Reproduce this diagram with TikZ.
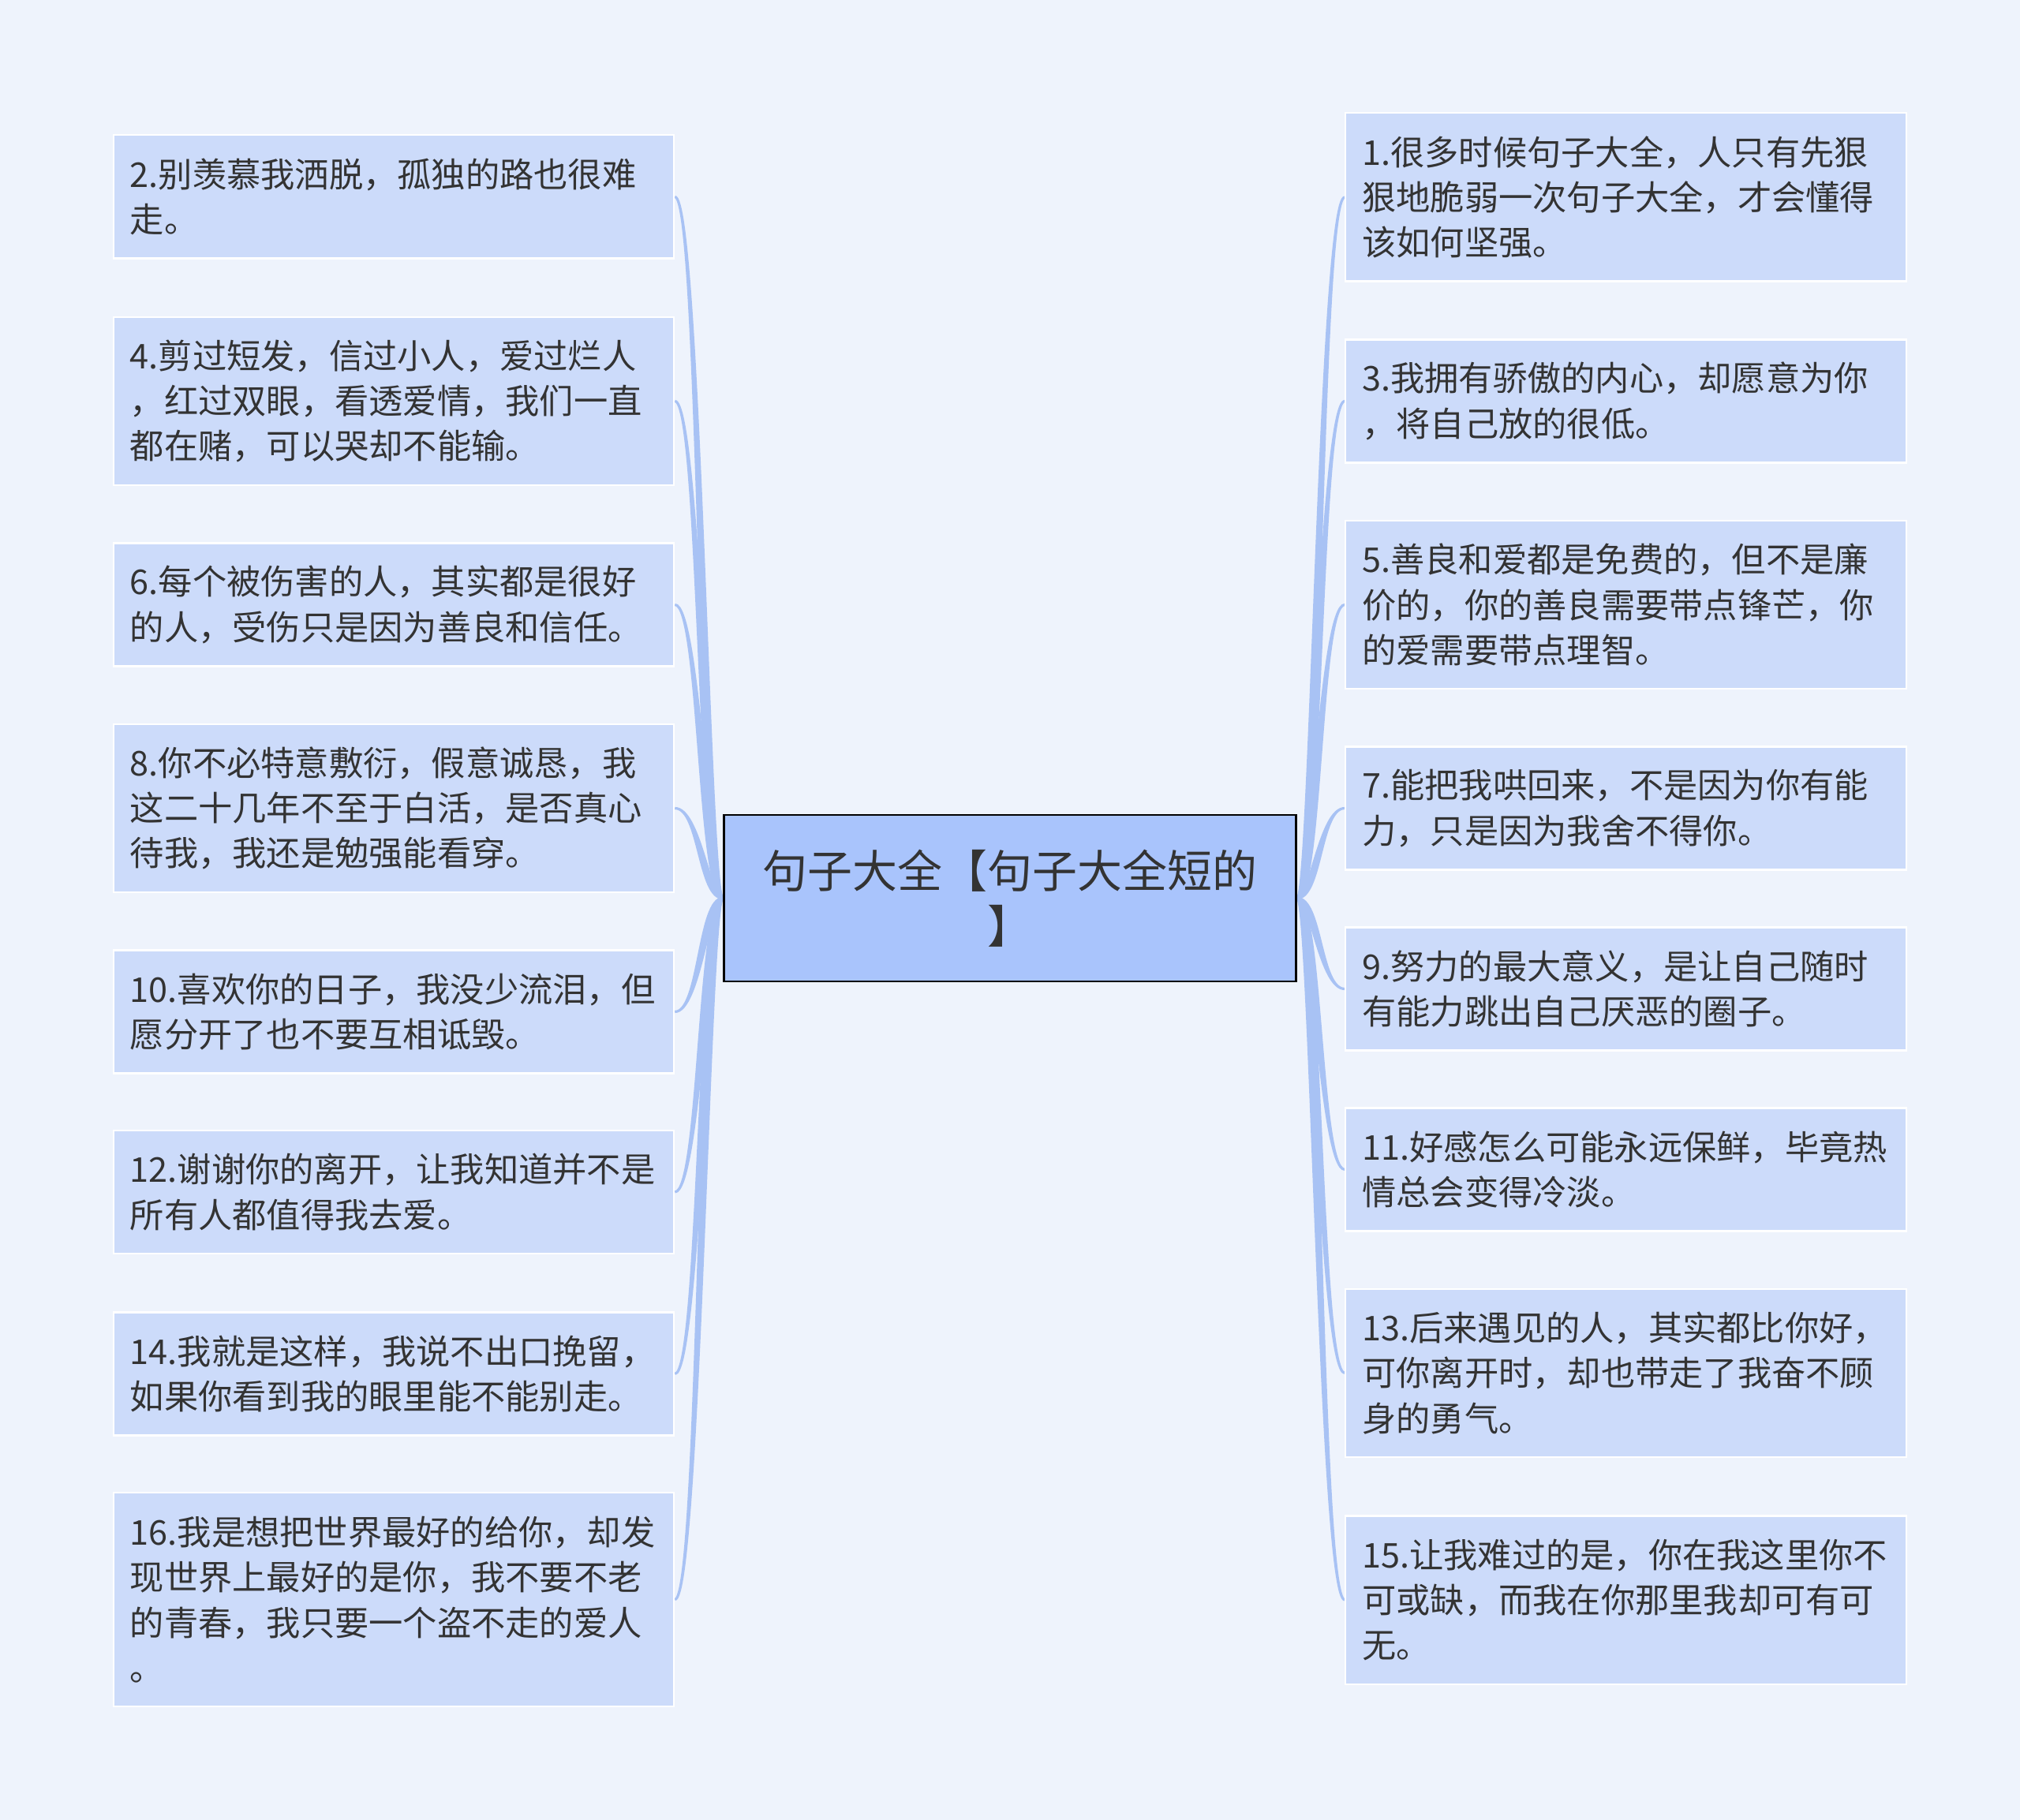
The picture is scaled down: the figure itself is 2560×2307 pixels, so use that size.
\documentclass[tikz,border=0pt]{standalone}
\usepackage{fontspec}
\newfontfamily\cjk{Noto Sans CJK SC}
\usetikzlibrary{positioning, backgrounds}
\definecolor{cbg}{HTML}{EEF3FC}
\definecolor{cleaf}{HTML}{CCDBFA}
\definecolor{croot}{HTML}{A9C4FC}
\definecolor{clink}{HTML}{A8C2F4}
\definecolor{ctext}{HTML}{333333}
\tikzset{
  every picture/.style={line width=0.6pt},
  leaf/.style={draw=white, fill=cleaf, line width=0.6pt, text=ctext, align=left, inner xsep=0.21cm, inner ysep=0pt, text width=6.68cm, minimum width=7.1cm, font=\cjk\fontsize{12.3}{16.3}\selectfont},
  two/.style={leaf, minimum height=1.56cm},
  three/.style={leaf, minimum height=2.13cm},
  four/.style={leaf, minimum height=2.71cm},
  root/.style={draw=black, fill=croot, line width=0.7pt, text=ctext, align=center, minimum width=7.25cm, minimum height=2.11cm, font=\cjk\fontsize{16.2}{20}\selectfont},
  link/.style={fill=clink, draw=clink, line width=0.9pt},
}

\begin{document}
\begin{tikzpicture}[x=0.01cm, y=-0.01cm]
  \newcommand{\lefttwig}[1]{\fill[link] (#1.east) .. controls +(31.5,0) and +(-31.5,0) .. (root.west) .. controls +(-17,0) and +(31.5,0) .. (#1.east) -- cycle;}
  \newcommand{\righttwig}[1]{\fill[link] (#1.west) .. controls +(-31.5,0) and +(31.5,0) .. (root.east) .. controls +(17,0) and +(-31.5,0) .. (#1.west) -- cycle;}
  \useasboundingbox (0,0) rectangle (2560,2307);

  % root
  \node[root] (root) at (1280,1138.5) {句子大全【句子大全短的\\】};

  % left side
  \node[two] (q2) at (499,249.5) {2.别羡慕我洒脱，孤独的路也很难\\走。};
  \node[three] (q4) at (499,508.5) {4.剪过短发，信过小人，爱过烂人\\，红过双眼，看透爱情，我们一直\\都在赌，可以哭却不能输。};
  \node[two] (q6) at (499,766.5) {6.每个被伤害的人，其实都是很好\\的人，受伤只是因为善良和信任。};
  \node[three] (q8) at (499,1024.5) {8.你不必特意敷衍，假意诚恳，我\\这二十几年不至于白活，是否真心\\待我，我还是勉强能看穿。};
  \node[two] (q10) at (499,1282.5) {10.喜欢你的日子，我没少流泪，但\\愿分开了也不要互相诋毁。};
  \node[two] (q12) at (499,1511) {12.谢谢你的离开，让我知道并不是\\所有人都值得我去爱。};
  \node[two] (q14) at (499,1741.5) {14.我就是这样，我说不出口挽留，\\如果你看到我的眼里能不能别走。};
  \node[four] (q16) at (499,2027.5) {16.我是想把世界最好的给你，却发\\现世界上最好的是你，我不要不老\\的青春，我只要一个盗不走的爱人\\。};

  % right side
  \node[three] (q1) at (2060.5,250) {1.很多时候句子大全，人只有先狠\\狠地脆弱一次句子大全，才会懂得\\该如何坚强。};
  \node[two] (q3) at (2060.5,508.5) {3.我拥有骄傲的内心，却愿意为你\\，将自己放的很低。};
  \node[three] (q5) at (2060.5,766.5) {5.善良和爱都是免费的，但不是廉\\价的，你的善良需要带点锋芒，你\\的爱需要带点理智。};
  \node[two] (q7) at (2060.5,1024.5) {7.能把我哄回来，不是因为你有能\\力，只是因为我舍不得你。};
  \node[two] (q9) at (2060.5,1253.5) {9.努力的最大意义，是让自己随时\\有能力跳出自己厌恶的圈子。};
  \node[two] (q11) at (2060.5,1482.5) {11.好感怎么可能永远保鲜，毕竟热\\情总会变得冷淡。};
  \node[three] (q13) at (2060.5,1740.5) {13.后来遇见的人，其实都比你好，\\可你离开时，却也带走了我奋不顾\\身的勇气。};
  \node[three] (q15) at (2060.5,2028) {15.让我难过的是，你在我这里你不\\可或缺，而我在你那里我却可有可\\无。};

  % links
  \begin{scope}[on background layer]
    \fill[cbg] (0,0) rectangle (2560,2307);
    \lefttwig{q2} \lefttwig{q4} \lefttwig{q6} \lefttwig{q8}
    \lefttwig{q10} \lefttwig{q12} \lefttwig{q14} \lefttwig{q16}
    \righttwig{q1} \righttwig{q3} \righttwig{q5} \righttwig{q7}
    \righttwig{q9} \righttwig{q11} \righttwig{q13} \righttwig{q15}
  \end{scope}
\end{tikzpicture}
\end{document}
